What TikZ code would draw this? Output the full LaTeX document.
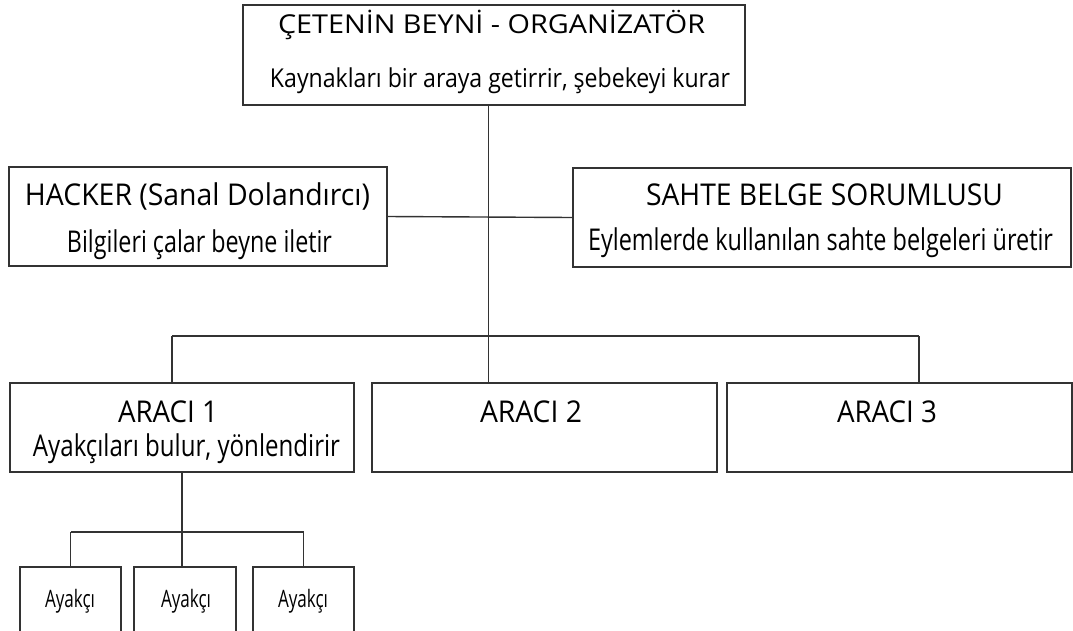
\documentclass[tikz,border=0pt]{standalone}
\usepackage{graphicx}
\usepackage{fontspec}
\setmainfont{Open Sans}
\definecolor{linecol}{HTML}{333333}
\newcommand{\fitw}[2]{\resizebox{#1}{\height}{#2}}
\begin{document}
\begin{tikzpicture}[x=1pt,y=-1pt,
  box/.style={draw=linecol, line width=1.4pt, rectangle, inner sep=0pt},
  conn/.style={draw=linecol, line width=1.4pt},
  txt/.style={anchor=base, inner sep=0pt, text=black},
  big/.style={font=\fontsize{30}{36}\selectfont},
  topf/.style={font=\fontsize{26}{32}\selectfont},
  small/.style={font=\fontsize{24}{28}\selectfont}]
\useasboundingbox (0,0) rectangle (1073,630);
\clip (0,0) rectangle (1073,630);
% boxes
\node[box, minimum width=502pt, minimum height=100pt] (top) at (494,55) {};
\node[box, minimum width=378pt, minimum height=99pt] (hacker) at (198,216.5) {};
\node[box, minimum width=498pt, minimum height=99pt] (sahte) at (822,217.5) {};
\node[box, minimum width=344pt, minimum height=89pt] (araci1) at (182,427.5) {};
\node[box, minimum width=345pt, minimum height=89pt] (araci2) at (544.5,427.5) {};
\node[box, minimum width=345pt, minimum height=89pt] (araci3) at (899.5,427.5) {};
\node[box, minimum width=101pt, minimum height=66pt] (ay1) at (70.5,600) {};
\node[box, minimum width=102pt, minimum height=66pt] (ay2) at (185,600) {};
\node[box, minimum width=101pt, minimum height=66pt] (ay3) at (303.5,600) {};
% texts
\node[txt, topf] (topT) at (491.5,33) {\fitw{427pt}{ÇETENİN BEYNİ - ORGANİZATÖR}};
\node[txt, topf] (topS) at (500,87) {\fitw{460pt}{Kaynakları bir araya getirrir, şebekeyi kurar}};
\node[txt, big] (hackerT) at (197.5,205) {\fitw{345pt}{HACKER (Sanal Dolandırcı)}};
\node[txt, big] (hackerS) at (199.5,252) {\fitw{265pt}{Bilgileri çalar beyne iletir}};
\node[txt, big] (sahteT) at (824.5,205) {\fitw{357pt}{SAHTE BELGE SORUMLUSU}};
\node[txt, big] (sahteS) at (820.5,250) {\fitw{465pt}{Eylemlerde kullanılan sahte belgeleri üretir}};
\node[txt, big] (araci1T) at (168,422) {\fitw{100pt}{ARACI 1}};
\node[txt, big] (araci1S) at (186.5,456) {\fitw{307pt}{Ayakçıları bulur, yönlendirir}};
\node[txt, big] (araci2T) at (531,422) {\fitw{102pt}{ARACI 2}};
\node[txt, big] (araci3T) at (887,422) {\fitw{100pt}{ARACI 3}};
\node[txt, small] (ay1T) at (70,607) {\fitw{50pt}{Ayakçı}};
\node[txt, small] (ay2T) at (186,607) {\fitw{50pt}{Ayakçı}};
\node[txt, small] (ay3T) at (303,607) {\fitw{50pt}{Ayakçı}};
% junctions
\coordinate (busC) at (488.5,336);
\coordinate (busL) at (172,336);
\coordinate (busR) at (919,336);
\coordinate (sbus) at (182,532);
\coordinate (sbusL) at (70.5,532);
\coordinate (sbusR) at (303.5,532);
% connectors
\draw[conn] (busC |- top.south) -- (busC);
\draw[conn] (hacker.east) -- (sahte.west);
\draw[conn] (busL) -- (busR);
\draw[conn] (busL) -- (busL |- araci1.north);
\draw[conn] (busC) -- (busC |- araci2.north);
\draw[conn] (busR) -- (busR |- araci3.north);
\draw[conn] (araci1.south) -- (sbus);
\draw[conn] (sbusL) -- (sbusR);
\draw[conn] (sbusL) -- (ay1.north);
\draw[conn] (sbus) -- (sbus |- ay2.north);
\draw[conn] (sbusR) -- (ay3.north);
\end{tikzpicture}
\end{document}
